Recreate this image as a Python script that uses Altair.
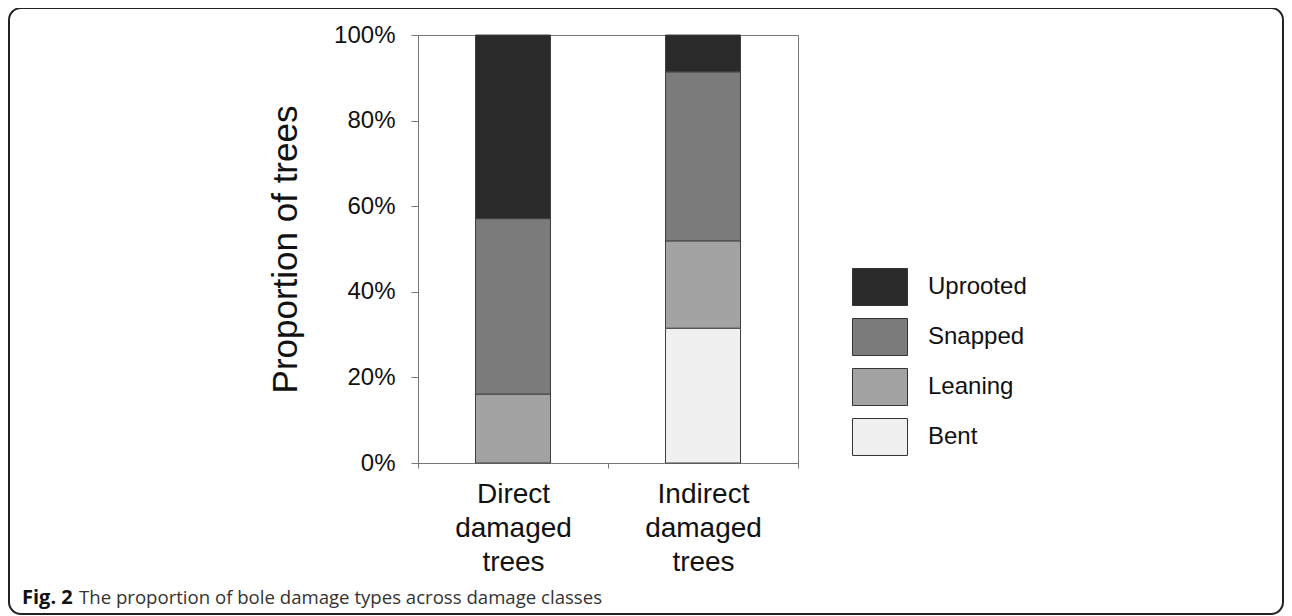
import altair as alt
import pandas as pd

# ---- data ----
categories = ["Direct|damaged|trees", "Indirect|damaged|trees"]
damage_types = ["Uprooted", "Snapped", "Leaning", "Bent"]   # legend order (top -> bottom)
stack_rank = {"Bent": 0, "Leaning": 1, "Snapped": 2, "Uprooted": 3}
bent = [0.0, 31.5]
leaning = [16.1, 20.4]
snapped = [41.0, 39.5]
uprooted = [42.9, 8.6]
colors = ["#2a2a2a", "#7b7b7b", "#a3a3a3", "#f0f0f0"]
y_ticks = [0, 20, 40, 60, 80, 100]
y_title = "Proportion of trees"
caption_bold = "Fig. 2"
caption_rest = "The proportion of bole damage types across damage classes"

series = {"Bent": bent, "Leaning": leaning, "Snapped": snapped, "Uprooted": uprooted}
rows = []
for name, vals in series.items():
    for cat, v in zip(categories, vals):
        if v > 0:
            rows.append({"cat": cat, "type": name, "value": v, "rank": stack_rank[name]})
df = pd.DataFrame(rows)

FONT = "Liberation Sans"

bars = alt.Chart(df).mark_bar(width=75, stroke="#404040", strokeWidth=1).encode(
    x=alt.X("cat:N", sort=categories, title=None,
            scale=alt.Scale(paddingInner=0, paddingOuter=0),
            axis=alt.Axis(labelAngle=0, tickBand="extent", tickSize=5,
                          domainColor="#777777", tickColor="#777777",
                          labelExpr="split(datum.label, '|')",
                          labelFont=FONT, labelFontSize=28, labelLineHeight=34,
                          labelColor="#111111", labelPadding=12)),
    y=alt.Y("value:Q", stack="zero",
            scale=alt.Scale(domain=[0, 100], nice=False),
            axis=alt.Axis(values=y_ticks, labelExpr="datum.value + '%'",
                          grid=False, tickSize=7, domainColor="#777777",
                          tickColor="#777777", labelFont=FONT, labelFontSize=24,
                          labelColor="#111111", labelPadding=16,
                          title=y_title, titleFont=FONT, titleFontSize=35,
                          titleFontWeight="normal", titleColor="#111111",
                          titlePadding=30)),
    color=alt.Color("type:N", scale=alt.Scale(domain=damage_types, range=colors),
                    legend=alt.Legend(title=None, orient="none", legendX=439.5, legendY=229.5,
                                      padding=0,
                                      symbolType="M-1.25,-0.84H1.25V0.84H-1.25Z",
                                      symbolSize=1936, symbolStrokeColor="#333333",
                                      symbolStrokeWidth=1, symbolOpacity=1,
                                      labelFont=FONT, labelFontSize=24, labelColor="#111111",
                                      labelOffset=25.5, rowPadding=7)),
    order=alt.Order("rank:Q", sort="ascending"),
)

cap1 = alt.Chart(pd.DataFrame({"t": [caption_bold]})).mark_text(
    font="Open Sans", fontSize=20, fontWeight="bold", align="left", baseline="alphabetic",
    color="#111111"
).encode(x=alt.value(-396), y=alt.value(569), text="t:N")

cap2 = alt.Chart(pd.DataFrame({"t": [caption_rest]})).mark_text(
    font="Open Sans", fontSize=18.6, align="left", baseline="alphabetic", color="#333333"
).encode(x=alt.value(-339), y=alt.value(569), text="t:N")

border = alt.Chart(pd.DataFrame({"b": [1]})).mark_rect(
    fillOpacity=0, stroke="#222222", strokeWidth=2, cornerRadius=12
).encode(x=alt.value(-409), x2=alt.value(865), y=alt.value(-27), y2=alt.value(579))

chart = alt.layer(border, bars, cap1, cap2).properties(
    width=380, height=428,
    autosize=alt.AutoSizeParams(type="none"),
    padding={"left": 410, "top": 27, "right": 486, "bottom": 153},
).configure_view(stroke="#777777", strokeWidth=1)

chart.save("out.html", embed_options={"renderer": "svg", "actions": False})
